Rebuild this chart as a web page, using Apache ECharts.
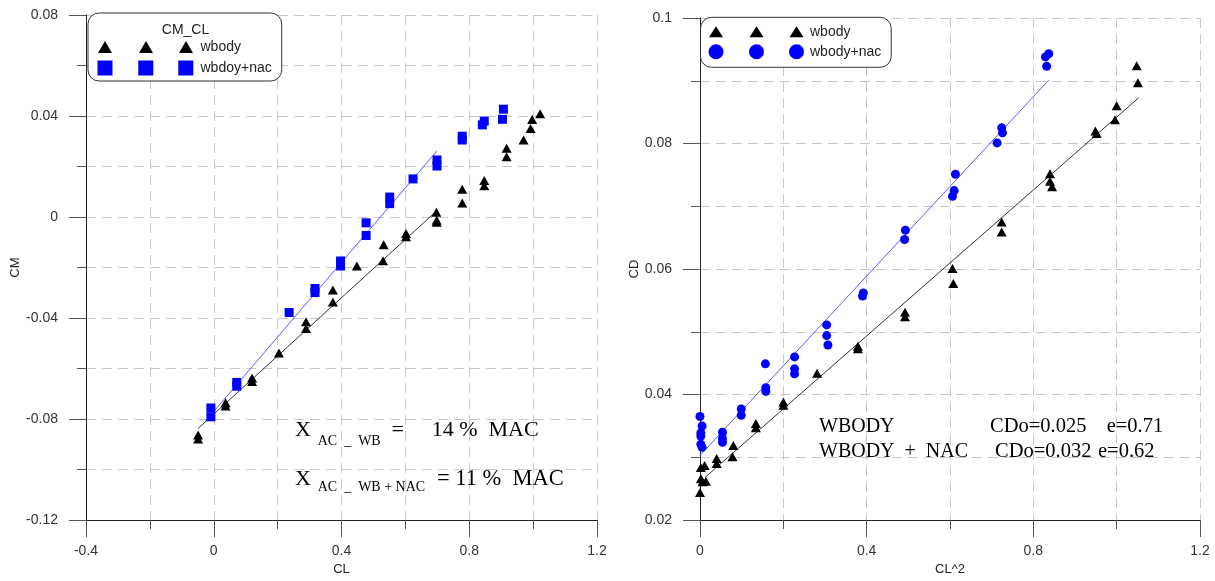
<!DOCTYPE html>
<html><head><meta charset="utf-8">
<script src="https://cdn.jsdelivr.net/npm/echarts@6/dist/echarts.min.js"></script>
<style>html,body{margin:0;padding:0;background:#fff}#c{width:1215px;height:581px}</style>
</head><body><div id="c"></div>
<script>
// ---- Left plot: CM vs CL ----
const cmWbody = [[-0.049,-0.0863],[-0.049,-0.0879],[0.037,-0.0735],[0.037,-0.0748],[0.120,-0.0637],[0.120,-0.0651],[0.204,-0.0538],[0.289,-0.0415],[0.289,-0.0441],[0.373,-0.0289],[0.373,-0.0336],[0.448,-0.0194],[0.530,-0.0173],[0.532,-0.011],[0.602,-0.0065],[0.602,-0.0078],[0.697,0.0019],[0.698,-0.0013],[0.698,-0.0021],[0.778,0.0056],[0.778,0.011],[0.847,0.0145],[0.847,0.0124],[0.917,0.0272],[0.917,0.0239],[0.970,0.0305],[0.992,0.0351],[0.997,0.0386],[1.022,0.0409]];
const cmNac = [[-0.009,-0.0756],[-0.009,-0.0791],[0.072,-0.0655],[0.072,-0.067],[0.236,-0.0378],[0.317,-0.0283],[0.317,-0.0299],[0.397,-0.0174],[0.397,-0.0194],[0.477,-0.0023],[0.477,-0.0073],[0.551,0.0079],[0.551,0.0053],[0.624,0.0151],[0.699,0.0226],[0.699,0.0202],[0.778,0.032],[0.778,0.0305],[0.841,0.0365],[0.847,0.038],[0.904,0.0387],[0.907,0.0427]];
const cmFitWbody = [[-0.049,-0.0837],[0.697,0.0023]];
const cmFitNac = [[-0.025,-0.0807],[0.699,0.0262]];
// ---- Right plot: CD vs CL^2 ----
const cdWbody = [[1.048,0.0924],[1.051,0.0897],[1.000,0.0860],[0.996,0.0838],[0.949,0.0820],[0.952,0.0816],[0.840,0.0752],[0.840,0.0740],[0.845,0.0731],[0.724,0.0675],[0.724,0.0659],[0.606,0.0601],[0.608,0.0577],[0.492,0.0531],[0.492,0.0524],[0.379,0.0477],[0.379,0.0473],[0.281,0.0434],[0.200,0.0388],[0.200,0.0383],[0.134,0.0354],[0.134,0.0347],[0.080,0.0319],[0.078,0.0301],[0.040,0.0298],[0.040,0.0290],[0.011,0.0287],[0.002,0.0284],[0.002,0.0266],[0.014,0.0262],[0.006,0.0261],[0.000,0.0244]];
const cdNac = [[0.837,0.0943],[0.829,0.0938],[0.832,0.0923],[0.724,0.0825],[0.726,0.0817],[0.713,0.0801],[0.613,0.0751],[0.610,0.0725],[0.606,0.0716],[0.493,0.0662],[0.491,0.0647],[0.392,0.0562],[0.390,0.0557],[0.304,0.0511],[0.304,0.0494],[0.307,0.0479],[0.157,0.0449],[0.227,0.0460],[0.227,0.0441],[0.227,0.0433],[0.158,0.0411],[0.158,0.0405],[0.099,0.0377],[0.099,0.0367],[0.000,0.0365],[0.005,0.0350],[0.002,0.0339],[0.002,0.0334],[0.054,0.0340],[0.054,0.0330],[0.054,0.0324],[0.002,0.0321],[0.005,0.0316]];
const cdFitWbody = [[0.012,0.0268],[1.053,0.0873]];
const cdFitNac = [[0.000,0.0303],[0.837,0.0901]];
// ---- texts ----
const seriesNames = {cmA:'wbody', cmB:'wbdoy+nac', cdA:'wbody', cdB:'wbody+nac'};
const legendTitle = 'CM_CL';
const axisNames = {cl:'CL', cm:'CM', cl2:'CL^2', cd:'CD'};

const SANS = 'Liberation Sans, Arial, sans-serif';
const SERIF = 'Liberation Serif, Times New Roman, serif';

const triIconL = 'path://M0,0 M98,15 M0.5,13.5 L7.5,1.5 L14.5,13.5 Z M41.5,13.5 L48.5,1.5 L55.5,13.5 Z M81.5,13.5 L88.5,1.5 L95.5,13.5 Z';
const sqIconL = 'path://M0,0 M98,15 M0,0 L15,0 L15,15 L0,15 Z M40.8,0 L55.8,0 L55.8,15 L40.8,15 Z M80.8,0 L95.8,0 L95.8,15 L80.8,15 Z';
const triIconR = 'path://M0,0 M96.5,15 M0.5,13 L7.5,2 L14.5,13 Z M41,13 L48,2 L55,13 Z M81,13 L88,2 L95,13 Z';
const cirIconR = 'path://M0,0 M96.5,15 M0,7.5 A7.5,7.5 0 1,0 15,7.5 A7.5,7.5 0 1,0 0,7.5 Z M40.5,7.5 A7.5,7.5 0 1,0 55.5,7.5 A7.5,7.5 0 1,0 40.5,7.5 Z M80.5,7.5 A7.5,7.5 0 1,0 95.5,7.5 A7.5,7.5 0 1,0 80.5,7.5 Z';

const gridLine = {show:true, lineStyle:{color:'#c8c8c8', width:1, type:[10,6]}};
function valAxis(idx, min, max, interval, name, gap, labelMargin){
  return {
    type:'value', gridIndex:idx, min, max, interval,
    name, nameLocation:'middle', nameGap:gap,
    nameTextStyle:{fontFamily:SANS, fontSize:13, color:'#222'},
    axisLine:{show:true, onZero:false, lineStyle:{color:'#222', width:1}},
    axisTick:{show:true, length:17, lineStyle:{color:'#555'}},
    minorTick:{show:true, splitNumber:2, length:9, lineStyle:{color:'#555'}},
    splitLine:gridLine, minorSplitLine:gridLine,
    axisLabel:{margin:labelMargin, color:'#333', fontSize:14, fontFamily:SANS}
  };
}
function txt(x, y, text, size, family){
  return {type:'text', x, y, z:100, style:{text, font:size+'px '+family, fill:'#000', textVerticalAlign:'middle', verticalAlign:'middle'}};
}

const chart = echarts.init(document.getElementById('c'), null, {renderer:'canvas'});
chart.setOption({
  animation:false,
  backgroundColor:'#fff',
  grid:[
    {left:86, top:15, width:511, height:508},
    {left:700, top:18, width:500, height:504}
  ],
  xAxis:[
    valAxis(0, -0.4, 1.2, 0.4, axisNames.cl, 42, 24),
    valAxis(1, 0, 1.2, 0.4, axisNames.cl2, 42, 24)
  ],
  yAxis:[
    valAxis(0, -0.12, 0.08, 0.04, axisNames.cm, 60, 28),
    valAxis(1, 0.02, 0.1, 0.02, axisNames.cd, 56, 28)
  ],
  legend:[
    {orient:'vertical', left:88, top:13, selectedMode:false,
     backgroundColor:'#fff', borderColor:'#333', borderWidth:1, borderRadius:11,
     padding:[26.5,10,5.5,9.5], itemGap:6, itemWidth:98, itemHeight:15,
     textStyle:{fontFamily:SANS, fontSize:14, color:'#222'},
     data:[{name:seriesNames.cmA, icon:triIconL},{name:seriesNames.cmB, icon:sqIconL}]},
    {orient:'vertical', left:700.5, top:17.3, selectedMode:false,
     backgroundColor:'#fff', borderColor:'#333', borderWidth:1, borderRadius:11,
     padding:[7,10,8,8], itemGap:5, itemWidth:96.5, itemHeight:15,
     textStyle:{fontFamily:SANS, fontSize:14, color:'#222'},
     data:[{name:seriesNames.cdA, icon:triIconR},{name:seriesNames.cdB, icon:cirIconR}]}
  ],
  series:[
    {type:'line', name:'fit1', xAxisIndex:0, yAxisIndex:0, data:cmFitWbody, showSymbol:false, symbol:'none', lineStyle:{color:'#333', width:1}, z:1},
    {type:'line', name:'fit2', xAxisIndex:0, yAxisIndex:0, data:cmFitNac, showSymbol:false, symbol:'none', lineStyle:{color:'#5a5aff', width:1}, z:1},
    {type:'scatter', name:seriesNames.cmA, xAxisIndex:0, yAxisIndex:0, data:cmWbody, symbol:'triangle', symbolSize:[10,9], itemStyle:{color:'#000', opacity:1}},
    {type:'scatter', name:seriesNames.cmB, xAxisIndex:0, yAxisIndex:0, data:cmNac, symbol:'rect', symbolSize:[9,9], itemStyle:{color:'#0000ff', opacity:1}},
    {type:'line', name:'fit3', xAxisIndex:1, yAxisIndex:1, data:cdFitWbody, showSymbol:false, symbol:'none', lineStyle:{color:'#333', width:1}, z:1},
    {type:'line', name:'fit4', xAxisIndex:1, yAxisIndex:1, data:cdFitNac, showSymbol:false, symbol:'none', lineStyle:{color:'#5a5aff', width:1}, z:1},
    {type:'scatter', name:seriesNames.cdA, xAxisIndex:1, yAxisIndex:1, data:cdWbody, symbol:'triangle', symbolSize:[10,9], itemStyle:{color:'#000', opacity:1}},
    {type:'scatter', name:seriesNames.cdB, xAxisIndex:1, yAxisIndex:1, data:cdNac, symbol:'circle', symbolSize:9, itemStyle:{color:'#0000ff', opacity:1}}
  ],
  graphic:[
    {type:'text', x:185.5, y:30, z:100, style:{text:legendTitle, font:'14px '+SANS, fill:'#222', textAlign:'center', align:'center', textVerticalAlign:'middle', verticalAlign:'middle'}},
    txt(295, 430.5, 'X', 22, SERIF),
    txt(317.7, 441, 'AC  _  WB', 14, SERIF),
    txt(391.5, 430.5, '=', 22, SERIF),
    txt(431.7, 430.5, '14 %  MAC', 22, SERIF),
    txt(295, 479.5, 'X', 22, SERIF),
    txt(317.7, 487.5, 'AC  _  WB + NAC', 14, SERIF),
    txt(437, 479.5, '= 11 %  MAC', 22.5, SERIF),
    txt(819, 427, 'WBODY', 20, SERIF),
    txt(990, 427, 'CDo=0.025', 20.5, SERIF),
    txt(1106.7, 427, 'e=0.71', 20.5, SERIF),
    txt(819, 452, 'WBODY  +  NAC', 20, SERIF),
    txt(995, 452, 'CDo=0.032', 20.5, SERIF),
    txt(1098, 452, 'e=0.62', 20.5, SERIF)
  ]
});
</script></body></html>
